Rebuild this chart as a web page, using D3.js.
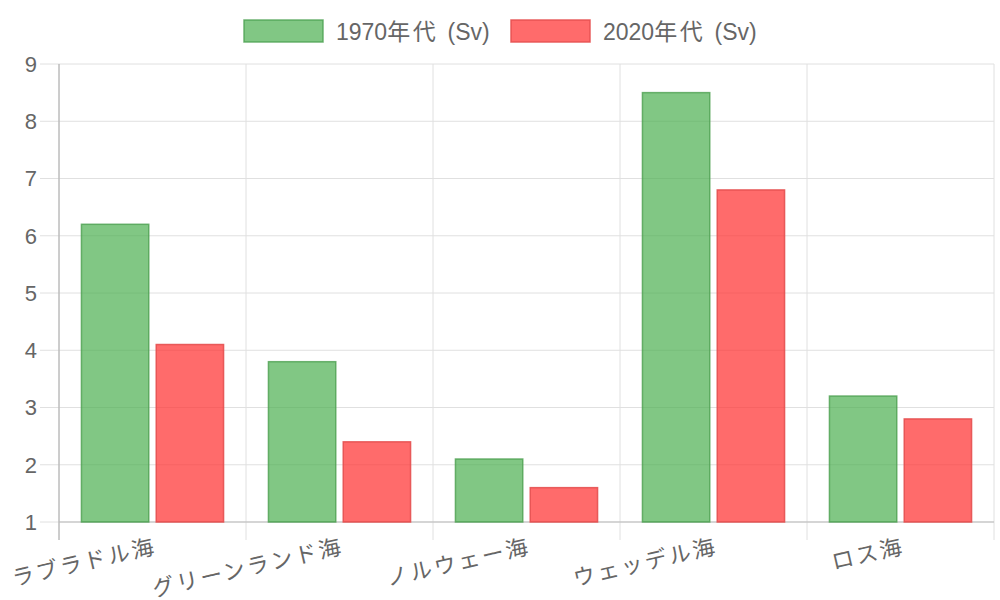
<!DOCTYPE html>
<html>
<head>
<meta charset="utf-8">
<script src="https://cdn.jsdelivr.net/npm/d3@7"></script>
<style>
  body { margin: 0; background: #fff; }
  text { font-family: "Liberation Sans", "Noto Sans CJK JP", sans-serif; fill: #666; }
  .cjk { letter-spacing: 2.5px; }
  .legend text { word-spacing: 3px; }
</style>
</head>
<body>
<div id="chart"></div>
<script>
// Data
const seas = ['ラブラドル海', 'グリーンランド海', 'ノルウェー海', 'ウェッデル海', 'ロス海'];
const seriesNames = ['1970年代 (Sv)', '2020年代 (Sv)'];
const values1970 = [6.2, 3.8, 2.1, 8.5, 3.2];
const values2020 = [4.1, 2.4, 1.6, 6.8, 2.8];
const yTicks = [1, 2, 3, 4, 5, 6, 7, 8, 9];

const fills = ['rgba(76,175,80,0.7)', 'rgba(255,50,50,0.72)'];
const strokes = ['rgba(76,160,80,0.8)', 'rgba(230,80,80,0.9)'];

const width = 1000;
const height = 600;
const margin = { t: 64, r: 6, b: 78, l: 59 };

// split a label into CJK / latin runs so the CJK glyphs can get a little more room
function addRuns(sel) {
  sel.each(function (d) {
    const label = typeof d === 'string' ? d : String(d);
    const runs = label.match(/[\u3000-\u9fff\u30a0-\u30ff]+|[^\u3000-\u9fff\u30a0-\u30ff]+/g);
    const t = d3.select(this);
    runs.forEach((r) => {
      t.append('tspan')
        .attr('class', /[\u3000-\u9fff]/.test(r) ? 'cjk' : null)
        .text(r);
    });
  });
}

const svg = d3
  .select('#chart')
  .append('svg')
  .attr('width', width)
  .attr('height', height);

const xScale = d3.scaleBand(seas, [margin.l, width - margin.r]);
const yScale = d3.scaleLinear([1, 9], [height - margin.b, margin.t]);

// groups of bars inside each category (categoryPercentage 0.8)
const inner = d3
  .scaleBand(seriesNames, [0, xScale.bandwidth() * 0.8])
  .paddingInner(0.1)
  .paddingOuter(0.05);

// horizontal grid
svg
  .append('g')
  .selectAll('line')
  .data(yTicks)
  .join('line')
  .attr('x1', margin.l - 19)
  .attr('x2', width - margin.r)
  .attr('y1', (d) => yScale(d))
  .attr('y2', (d) => yScale(d))
  .attr('stroke', '#e0e0e0')
  .attr('stroke-width', 1);

// vertical grid
const xEdges = seas.map((d) => xScale(d)).concat([width - margin.r]);
svg
  .append('g')
  .selectAll('line')
  .data(xEdges)
  .join('line')
  .attr('x1', (d) => d)
  .attr('x2', (d) => d)
  .attr('y1', margin.t)
  .attr('y2', height - margin.b + 18)
  .attr('stroke', '#e0e0e0')
  .attr('stroke-width', 1);

// axis lines
svg
  .append('line')
  .attr('x1', margin.l)
  .attr('x2', margin.l)
  .attr('y1', margin.t)
  .attr('y2', height - margin.b + 18)
  .attr('stroke', '#aaa');
svg
  .append('line')
  .attr('x1', margin.l)
  .attr('x2', width - margin.r)
  .attr('y1', height - margin.b)
  .attr('y2', height - margin.b)
  .attr('stroke', '#bbb');

// y labels
svg
  .append('g')
  .selectAll('text')
  .data(yTicks)
  .join('text')
  .attr('x', 37)
  .attr('y', (d) => yScale(d))
  .attr('dy', '0.36em')
  .attr('text-anchor', 'end')
  .style('font-size', '22px')
  .text((d) => d);

// bars
const rows = seas.map((s, i) => ({ sea: s, vals: [values1970[i], values2020[i]] }));
const groups = svg
  .append('g')
  .selectAll('g')
  .data(rows)
  .join('g')
  .attr('transform', (d) => `translate(${xScale(d.sea) + xScale.bandwidth() * 0.1},0)`);

groups
  .selectAll('rect')
  .data((d) => d.vals.map((v, k) => ({ v, k })))
  .join('rect')
  .attr('x', (d) => inner(seriesNames[d.k]))
  .attr('width', inner.bandwidth())
  .attr('y', (d) => yScale(d.v))
  .attr('height', (d) => yScale(1) - yScale(d.v))
  .attr('fill', (d) => fills[d.k])
  .attr('stroke', (d) => strokes[d.k])
  .attr('stroke-width', 1.5);

// x labels, rotated around their top-right corner
svg
  .append('g')
  .selectAll('text')
  .data(seas)
  .join('text')
  .attr('text-anchor', 'end')
  .attr('dy', '0.8em')
  .attr('transform', (d) => `translate(${xScale(d) + xScale.bandwidth() / 2 + 1},${height - margin.b + 14})rotate(-13)`)
  .style('font-size', '22px')
  .call(addRuns);

// legend
const legendX = [244, 511];
const legend = svg
  .append('g')
  .attr('class', 'legend')
  .selectAll('g')
  .data(seriesNames)
  .join('g')
  .attr('transform', (d, i) => `translate(${legendX[i]},20)`);
legend
  .append('rect')
  .attr('width', 79)
  .attr('height', 22)
  .attr('fill', (d, i) => fills[i])
  .attr('stroke', (d, i) => strokes[i])
  .attr('stroke-width', 1.5);
legend
  .append('text')
  .attr('x', 92)
  .attr('y', 12)
  .attr('dy', '0.36em')
  .style('font-size', '23px')
  .call(addRuns);
</script>
</body>
</html>
